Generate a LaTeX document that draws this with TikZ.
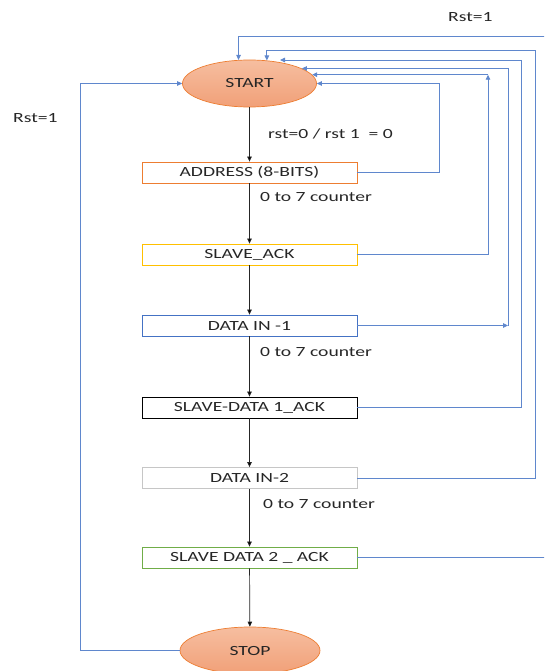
\documentclass[tikz,border=0pt]{standalone}
\usepackage{fontspec}
\newfontfamily\flowfont[FakeStretch=1.4]{Carlito}
\usepackage{tikz}
\usetikzlibrary{arrows.meta,shapes.geometric}

\definecolor{linkblue}{RGB}{95,135,205}
\definecolor{endline}{RGB}{237,125,49}
\definecolor{endtop}{RGB}{246,190,160}
\definecolor{endbottom}{RGB}{241,160,120}
\definecolor{addrorange}{RGB}{237,125,49}
\definecolor{ackyellow}{RGB}{255,192,0}
\definecolor{datablue}{RGB}{68,114,196}
\definecolor{ackgreen}{RGB}{112,173,71}

\begin{document}
\begin{tikzpicture}[x=1pt,y=-1pt,>={Triangle[length=5pt,width=4.5pt]},
    every node/.style={font=\flowfont\fontsize{14}{16}\selectfont, text=black!85}]
		\tikzstyle{terminal}=[ellipse, draw=endline, line width=0.7pt, top color=endtop, bottom color=endbottom,
		                      minimum width=134pt, minimum height=47pt, inner sep=0pt]
		\tikzstyle{stage}=[rectangle, line width=0.8pt, minimum width=215pt, minimum height=21pt, inner sep=0pt]
		\tikzstyle{note}=[anchor=west, inner sep=0pt]
		\tikzstyle{flow}=[->, line width=0.7pt, draw=black!85]
		\tikzstyle{reset}=[line width=0.9pt, linkblue]

		\useasboundingbox (0,0) rectangle (544,671);
		\clip (0,0) rectangle (544,671);

		\node[terminal]                         (start)  at (249.5, 83.5) {START};
		\node[stage, draw=addrorange]           (addr)   at (249.5,172.5) {ADDRESS (8-BITS)};
		\node[stage, draw=ackyellow]            (sack)   at (249.5,254.5) {SLAVE\_ACK};
		\node[stage, draw=datablue]             (din1)   at (249.5,325.5) {DATA IN -1};
		\node[stage, draw=black]                (sdack1) at (249.5,407.5) {SLAVE-DATA 1\_ACK};
		\node[stage, draw=gray!45]              (din2)   at (249.5,478)   {DATA IN-2};
		\node[stage, draw=ackgreen]             (sdack2) at (249.5,557.5) {SLAVE DATA 2 \_ ACK};
		\node[terminal, minimum width=140pt]    (stop)   at (250,650.5)   {STOP};

		\node[note] (cond) at (268,134) {rst=0 / rst 1\ \ = 0};
		\node[note] (cnt1) at (260,197) {0 to 7 counter};
		\node[note] (cnt2) at (260,352) {0 to 7 counter};
		\node[note] (cnt3) at (263,504) {0 to 7 counter};
		\node[note] (rstT) at (448,17)  {Rst=1};
		\node[note] (rstL) at (13,118)  {Rst=1};

		\path[flow]
		(start)  edge (addr)
		(addr)   edge (sack)
		(sack)   edge (din1)
		(din1)   edge (sdack1)
		(sdack1) edge (din2)
		(din2)   edge (sdack2)
		(sdack2) edge (stop)
		;

		\coordinate (busL) at (80,0);
		\coordinate (busA) at (439,0);
		\coordinate (busB) at (488,0);
		\coordinate (busC) at (508,0);
		\coordinate (busD) at (521,0);
		\coordinate (busE) at (535,0);
		\coordinate (busF) at (550,0);
		\coordinate (topE) at (0,50);
		\coordinate (topF) at (0,36);
		\coordinate (tipD) at (280,60);

		\draw[reset,->] (stop.west) -- (stop.west -| busL) |- (start.west);
		\draw[reset,->] (addr.east) -- (addr.east -| busA) |- (start.east);
		\draw[reset,->] (sack.east) -- (sack.east -| busB) -- (busB |- start.8);
		\draw[reset,->] (busB |- start.8) -- (start.8);
		\draw[reset,->] (din1.east) -- (din1.east -| busC);
		\draw[reset,->] (din1.east -| busC) |- (start.16);
		\draw[reset,->] (sdack1.east) -- (sdack1.east -| busD) |- (tipD);
		\draw[reset,->] (din2.east) -- (din2.east -| busE) |- (topE -| start.53) -- (start.53);
		\draw[reset,->] (sdack2.east) -- (sdack2.east -| busF) |- (topF -| start.115) -- (start.115);
\end{tikzpicture}
\end{document}
